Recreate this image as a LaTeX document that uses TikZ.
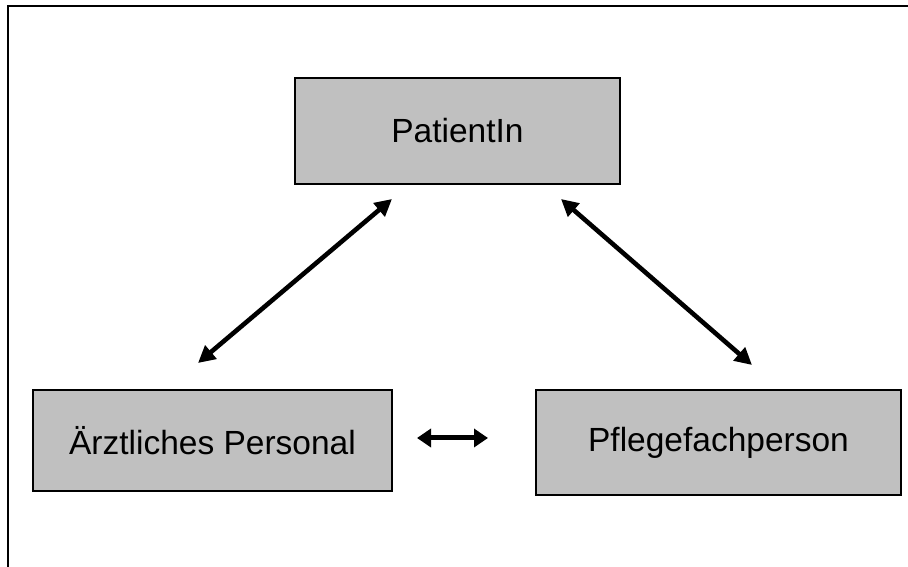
\documentclass[tikz,border=0pt]{standalone}
\usepackage{fontspec}
\setmainfont{Liberation Sans}
\usetikzlibrary{arrows.meta}
\definecolor{boxgray}{RGB}{192,192,192}
\begin{document}
\begin{tikzpicture}[x=1pt,y=1pt,
  rolebox/.style={draw=black,fill=boxgray,line width=1.6pt,inner sep=0pt,
    font=\fontsize{33.5}{40}\selectfont},
  link/.style={line width=4.6pt,{Triangle[length=17pt,width=17pt]}-{Triangle[length=17pt,width=17pt]}},
  shortlink/.style={line width=5pt,{Triangle[length=14pt,width=18pt]}-{Triangle[length=14pt,width=18pt]}}]
\useasboundingbox (0,0) rectangle (908,567);
% frame: top and left edges
\draw[line width=2pt] (8,0) -- (8,561) -- (908,561);
% role boxes
\node[rolebox,minimum width=325pt,minimum height=106pt] (pat) at (457.5,436) {PatientIn};
\node[rolebox,minimum width=359pt,minimum height=101pt] (arzt) at (212.5,126.5) {Ärztliches Personal};
\node[rolebox,minimum width=365pt,minimum height=105pt] (pfl) at (718.5,124.5) {Pflegefachperson};
% arrow end points
\coordinate (a1s) at (198,204);
\coordinate (a1e) at (392,368);
\coordinate (a2s) at (561,368);
\coordinate (a2e) at (752,202);
\coordinate (a3s) at (417,129);
\coordinate (a3e) at (488,129);
\draw[link] (a1s) -- (a1e);
\draw[link] (a2s) -- (a2e);
\draw[shortlink] (a3s) -- (a3e);
\end{tikzpicture}
\end{document}
